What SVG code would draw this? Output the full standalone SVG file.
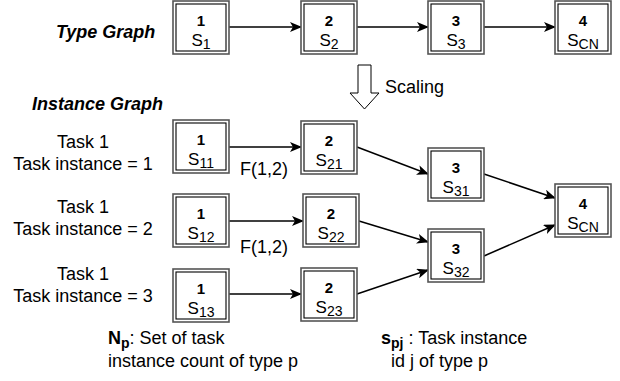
<svg xmlns="http://www.w3.org/2000/svg" width="620" height="381" viewBox="0 0 620 381">
<style>
text{font-family:"Liberation Sans",Arial,Helvetica,sans-serif;fill:#000}
.o{fill:#fff;stroke:#555;stroke-width:1.6}
.i{fill:none;stroke:#000;stroke-width:1.1}
.n{font-size:15px;font-weight:bold;text-anchor:middle}
.s{font-size:17px;text-anchor:middle}
.sub{font-size:14px}
.t{font-size:18px}
.h{font-size:18px;font-weight:bold;font-style:italic}
.e{fill:none;stroke:#000;stroke-width:1.5;marker-end:url(#a)}
</style>
<defs>
<marker id="a" viewBox="0 0 12 10" refX="11" refY="5" markerWidth="12" markerHeight="10" markerUnits="userSpaceOnUse" orient="auto">
<path d="M0,0 L12,5 L0,10 L3,5 Z" fill="#000"/>
</marker>
<g id="box"><rect class="o" x="0" y="0" width="56" height="53"/><rect class="i" x="3" y="3" width="50" height="47"/></g>
</defs>
<g id="labels">
<text class="h" x="56" y="38">Type Graph</text>
<text class="h" x="32" y="110">Instance Graph</text>
<text class="t" x="385" y="93">Scaling</text>
<text class="t" text-anchor="middle"><tspan x="83" y="148">Task 1</tspan><tspan x="83" y="170">Task instance = 1</tspan></text>
<text class="t" text-anchor="middle"><tspan x="83" y="213">Task 1</tspan><tspan x="83" y="235">Task instance = 2</tspan></text>
<text class="t" text-anchor="middle"><tspan x="83" y="280">Task 1</tspan><tspan x="83" y="302">Task instance = 3</tspan></text>
<text class="t" x="240" y="175">F(1,2)</text>
<text class="t" x="240" y="253">F(1,2)</text>
<text class="t" x="108" y="344"><tspan font-weight="bold">N</tspan><tspan font-weight="bold" class="sub" dy="4">p</tspan><tspan dy="-4">: Set of task</tspan></text>
<text class="t" x="108" y="367">instance count of type p</text>
<text class="t" x="381" y="344"><tspan font-weight="bold">s</tspan><tspan font-weight="bold" class="sub" dy="4">pj</tspan><tspan dy="-4"> : Task instance</tspan></text>
<text class="t" x="391" y="367">id j of type p</text>
</g>
<g id="scaling-arrow"><path d="M358,65 H371 V93 H379 L364.5,109 L350,93 H358 Z" fill="#fff" stroke="#000" stroke-width="1"/></g>
<g id="connectors">
<line class="e" x1="229" y1="27" x2="301" y2="27"/>
<line class="e" x1="357" y1="27" x2="428" y2="27"/>
<line class="e" x1="484" y1="27" x2="555" y2="27"/>
<line class="e" x1="229" y1="147" x2="301" y2="147"/>
<line class="e" x1="229" y1="221" x2="303" y2="221"/>
<line class="e" x1="229" y1="294" x2="301" y2="294"/>
<line class="e" x1="357" y1="147" x2="428" y2="174"/>
<line class="e" x1="359" y1="221" x2="428" y2="242"/>
<line class="e" x1="357" y1="294" x2="428" y2="270"/>
<line class="e" x1="484" y1="174" x2="555" y2="198"/>
<line class="e" x1="484" y1="256" x2="555" y2="225"/>
</g>
<g id="t1" transform="translate(173,1)"><use href="#box"/><text class="n" x="28" y="25">1</text><text class="s" x="28" y="45">S<tspan class="sub" dy="3">1</tspan></text></g>
<g id="t2" transform="translate(301,1)"><use href="#box"/><text class="n" x="28" y="25">2</text><text class="s" x="28" y="45">S<tspan class="sub" dy="3">2</tspan></text></g>
<g id="t3" transform="translate(428,1)"><use href="#box"/><text class="n" x="28" y="25">3</text><text class="s" x="28" y="45">S<tspan class="sub" dy="3">3</tspan></text></g>
<g id="t4" transform="translate(555,1)"><use href="#box"/><text class="n" x="28" y="25">4</text><text class="s" x="28" y="45">S<tspan class="sub" dy="3">CN</tspan></text></g>
<g id="s11" transform="translate(173,120)"><use href="#box"/><text class="n" x="28" y="25">1</text><text class="s" x="28" y="45">S<tspan class="sub" dy="3">11</tspan></text></g>
<g id="s21" transform="translate(301,121)"><use href="#box"/><text class="n" x="28" y="25">2</text><text class="s" x="28" y="45">S<tspan class="sub" dy="3">21</tspan></text></g>
<g id="s12" transform="translate(173,194)"><use href="#box"/><text class="n" x="28" y="25">1</text><text class="s" x="28" y="45">S<tspan class="sub" dy="3">12</tspan></text></g>
<g id="s22" transform="translate(303,194)"><use href="#box"/><text class="n" x="28" y="25">2</text><text class="s" x="28" y="45">S<tspan class="sub" dy="3">22</tspan></text></g>
<g id="s13" transform="translate(173,269)"><use href="#box"/><text class="n" x="28" y="25">1</text><text class="s" x="28" y="45">S<tspan class="sub" dy="3">13</tspan></text></g>
<g id="s23" transform="translate(301,268)"><use href="#box"/><text class="n" x="28" y="25">2</text><text class="s" x="28" y="45">S<tspan class="sub" dy="3">23</tspan></text></g>
<g id="s31" transform="translate(428,148)"><use href="#box"/><text class="n" x="28" y="25">3</text><text class="s" x="28" y="45">S<tspan class="sub" dy="3">31</tspan></text></g>
<g id="s32" transform="translate(428,229)"><use href="#box"/><text class="n" x="28" y="25">3</text><text class="s" x="28" y="45">S<tspan class="sub" dy="3">32</tspan></text></g>
<g id="scn" transform="translate(555,184)"><use href="#box"/><text class="n" x="28" y="25">4</text><text class="s" x="28" y="45">S<tspan class="sub" dy="3">CN</tspan></text></g>
</svg>
